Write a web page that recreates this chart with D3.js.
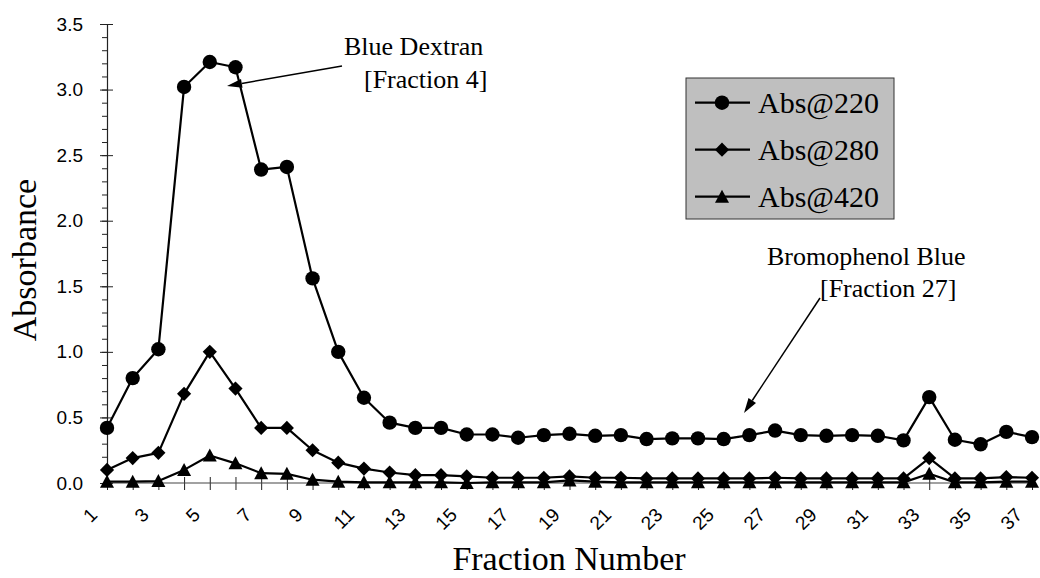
<!DOCTYPE html>
<html>
<head>
<meta charset="utf-8">
<script src="https://cdn.jsdelivr.net/npm/d3@7"></script>
<style>
  body { margin: 0; background: #fff; }
</style>
</head>
<body>
<div id="chart"></div>
<script>
// data
const fractions = d3.range(1, 38);
const abs220 = [0.42, 0.80, 1.02, 3.02, 3.21, 3.17, 2.39, 2.41, 1.56, 1.00,
  0.65, 0.46, 0.42, 0.42, 0.37, 0.37, 0.345, 0.365, 0.375, 0.36,
  0.365, 0.335, 0.34, 0.34, 0.335, 0.365, 0.40, 0.365, 0.36, 0.365,
  0.36, 0.325, 0.655, 0.33, 0.295, 0.39, 0.35];
const abs280 = [0.10, 0.19, 0.23, 0.68, 1.00, 0.72, 0.42, 0.42, 0.25, 0.155,
  0.11, 0.08, 0.06, 0.06, 0.05, 0.04, 0.04, 0.04, 0.05, 0.04,
  0.04, 0.035, 0.035, 0.035, 0.035, 0.035, 0.04, 0.035, 0.035, 0.035,
  0.035, 0.035, 0.19, 0.035, 0.035, 0.045, 0.04];
const abs420 = [0.01, 0.01, 0.015, 0.10, 0.21, 0.15, 0.075, 0.07, 0.025, 0.01,
  0.005, 0.005, 0.005, 0.005, 0.0, 0.005, 0.005, 0.005, 0.02, 0.01,
  0.005, 0.005, 0.005, 0.005, 0.005, 0.005, 0.005, 0.005, 0.005, 0.005,
  0.005, 0.005, 0.07, 0.005, 0.005, 0.01, 0.01];
const seriesNames = ["Abs@220", "Abs@280", "Abs@420"];
const yMajor = [0, 0.5, 1.0, 1.5, 2.0, 2.5, 3.0, 3.5];
const yMinor = d3.range(0, 36).map(d => d / 10);

const width = 1040, height = 578;
const serif = "'Liberation Serif', 'Times New Roman', serif";
const sans = "'Liberation Sans', Arial, sans-serif";

const svg = d3.select("#chart").append("svg")
  .attr("width", width)
  .attr("height", height);

const x = d3.scaleLinear().domain([1, 37]).range([107, 1032]);
const y = d3.scaleLinear().domain([0, 3.5]).range([483, 24]);

// y axis: minor ticks
svg.append("g")
  .attr("transform", "translate(107,0)")
  .call(d3.axisLeft(y).tickValues(yMinor).tickSize(5).tickFormat(""))
  .call(g => g.select(".domain").remove())
  .selectAll("line").attr("stroke", "#222");

// y axis: major ticks with labels
svg.append("g")
  .attr("transform", "translate(107,0)")
  .call(d3.axisLeft(y).tickValues(yMajor).tickSize(7).tickSizeOuter(0).tickPadding(17).tickFormat(d3.format(".1f")))
  .call(g => g.select(".domain").attr("stroke", "#222").attr("stroke-width", 1.2))
  .call(g => g.selectAll("line").attr("stroke", "#222").attr("x2", -7))
  .call(g => g.selectAll(".tick").append("line").attr("x2", 6).attr("stroke", "#222"))
  .call(g => g.selectAll("text").attr("font-family", sans).attr("font-size", "19px").attr("fill", "#000"));

// x axis
const xAxis = svg.append("g")
  .attr("transform", "translate(0,483)")
  .call(d3.axisBottom(x).tickValues(fractions).tickSize(7).tickSizeOuter(0)
    .tickFormat(d => d % 2 === 1 ? d : ""));
xAxis.select(".domain").remove();
xAxis.selectAll(".tick line").attr("stroke", "#222");
xAxis.selectAll(".tick").append("line").attr("y2", -6).attr("stroke", "#222");
xAxis.selectAll("text")
  .attr("font-family", sans)
  .attr("font-size", "19px")
  .attr("fill", "#000")
  .attr("y", 0)
  .attr("dy", 0)
  .attr("text-anchor", "end")
  .attr("transform", "translate(-9,33) rotate(-45)");
xAxis.append("line")
  .attr("x1", 0).attr("x2", 1036 - 107)
  .attr("transform", "translate(107,0)")
  .attr("stroke", "#444")
  .attr("stroke-width", 1.2);

// axis titles
svg.append("text")
  .attr("transform", "translate(36,260) rotate(-90)")
  .attr("text-anchor", "middle")
  .attr("font-family", serif)
  .attr("font-size", "34px")
  .text("Absorbance");

svg.append("text")
  .attr("x", 569)
  .attr("y", 570)
  .attr("text-anchor", "middle")
  .attr("font-family", serif)
  .attr("font-size", "34px")
  .text("Fraction Number");

// markers
const circleSym = d3.symbol().type(d3.symbolCircle).size(Math.PI * 7.2 * 7.2);
const diamondSym = d3.symbol().type(d3.symbolDiamond2).size(128);
const triangleSym = () => "M0,-7L7,6L-7,6Z";
const markers = [circleSym, diamondSym, triangleSym];
const allSeries = [abs220, abs280, abs420];

const line = d3.line()
  .x((d, i) => x(fractions[i]))
  .y(d => y(d));

allSeries.forEach((vals, s) => {
  svg.append("path")
    .datum(vals)
    .attr("d", line)
    .attr("fill", "none")
    .attr("stroke", "#000")
    .attr("stroke-width", 2.2)
    .attr("stroke-linejoin", "round");

  svg.append("g").selectAll("path")
    .data(vals)
    .join("path")
    .attr("transform", (d, i) => `translate(${x(fractions[i])},${y(d)})`)
    .attr("d", markers[s])
    .attr("fill", "#000");
});

// legend
const legend = svg.append("g").attr("transform", "translate(686,78)");
legend.append("rect")
  .attr("width", 208)
  .attr("height", 141)
  .attr("fill", "#bfbfbf")
  .attr("stroke", "#333")
  .attr("stroke-width", 1);

seriesNames.forEach((name, i) => {
  const row = legend.append("g").attr("transform", `translate(0,${24.7 + i * 47})`);
  row.append("line")
    .attr("x1", 9).attr("x2", 64)
    .attr("stroke", "#000")
    .attr("stroke-width", 2.2);
  row.append("path")
    .attr("transform", "translate(36,0)")
    .attr("d", markers[i])
    .attr("fill", "#000");
  row.append("text")
    .attr("x", 72)
    .attr("y", 10.5)
    .attr("font-family", serif)
    .attr("font-size", "30px")
    .text(name);
});

// annotations
function arrow(x1, y1, x2, y2) {
  const a = Math.atan2(y2 - y1, x2 - x1);
  const len = 15, half = 4.5;
  const bx = x2 - len * Math.cos(a), by = y2 - len * Math.sin(a);
  svg.append("line")
    .attr("x1", x1).attr("y1", y1)
    .attr("x2", bx).attr("y2", by)
    .attr("stroke", "#000")
    .attr("stroke-width", 1.5);
  svg.append("path")
    .attr("d", `M${x2},${y2}L${bx - half * Math.sin(a)},${by + half * Math.cos(a)}L${bx + half * Math.sin(a)},${by - half * Math.cos(a)}Z`)
    .attr("fill", "#000");
}

svg.append("text")
  .attr("x", 344).attr("y", 55)
  .attr("font-family", serif)
  .attr("font-size", "26px")
  .text("Blue Dextran");
svg.append("text")
  .attr("x", 364).attr("y", 88)
  .attr("font-family", serif)
  .attr("font-size", "26px")
  .text("[Fraction 4]");
arrow(342, 66, 227, 86);

svg.append("text")
  .attr("x", 767).attr("y", 265)
  .attr("font-family", serif)
  .attr("font-size", "26px")
  .text("Bromophenol Blue");
svg.append("text")
  .attr("x", 820).attr("y", 297)
  .attr("font-family", serif)
  .attr("font-size", "26px")
  .text("[Fraction 27]");
arrow(820, 298, 744, 413);
</script>
</body>
</html>
